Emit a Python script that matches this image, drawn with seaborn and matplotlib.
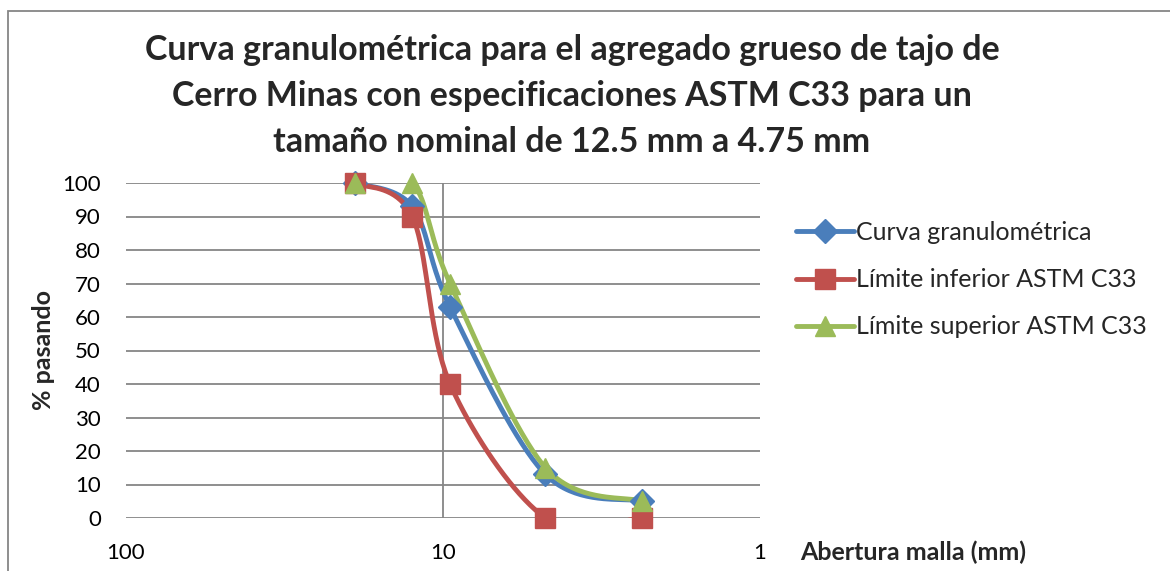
import numpy as np
import pandas as pd
import matplotlib
matplotlib.use("Agg")
import matplotlib.pyplot as plt
from matplotlib.lines import Line2D
from matplotlib.patches import Rectangle
import seaborn as sns

# ---- data ----
aberturas = [19.0, 12.5, 9.5, 4.75, 2.36]
curva = [100, 93, 63, 13, 5]
inferior = [100, 90, 40, 0, 0]
superior = [100, 100, 70, 15, 5]
series_names = ["Curva granulométrica", "Límite inferior ASTM C33", "Límite superior ASTM C33"]
y_ticks = [0, 10, 20, 30, 40, 50, 60, 70, 80, 90, 100]
x_ticks = [100, 10, 1]
x_tick_labels = ["100", "10", "1"]
title = ("Curva granulométrica para el agregado grueso de tajo de\n"
         "Cerro Minas con especificaciones ASTM C33 para un\n"
         "tamaño nominal de 12.5 mm a 4.75 mm")

sns.set_theme(style="white")
plt.rcParams["font.family"] = ["Lato", "DejaVu Sans"]

colors = ["#4A7EBB", "#C0504D", "#9BBB59"]
markers = ["D", "s", "^"]
msizes = [12, 14, 15]
LW = 3.5


def smooth(xs, ys, n=40):
    """Catmull-Rom spline in (log10 x, y) space (Excel-like smoothed line)."""
    lx = np.log10(np.asarray(xs, float))
    yy = np.asarray(ys, float)
    P = np.column_stack([lx, yy])
    P = np.vstack([P[0], P, P[-1]])
    out = []
    for i in range(1, len(P) - 2):
        p0, p1, p2, p3 = P[i - 1], P[i], P[i + 1], P[i + 2]
        c1 = p1 + (p2 - p0) / 6.0
        c2 = p2 - (p3 - p1) / 6.0
        t = np.linspace(0, 1, n)[:, None]
        seg = ((1 - t) ** 3) * p1 + 3 * ((1 - t) ** 2) * t * c1 + 3 * (1 - t) * t ** 2 * c2 + t ** 3 * p2
        out.append(seg if i == 1 else seg[1:])
    out = np.vstack(out)
    return 10 ** out[:, 0], out[:, 1]


fig = plt.figure(figsize=(11.7, 5.71), dpi=100)
ax = fig.add_axes([126 / 1170, 1 - 518 / 571, (760 - 126) / 1170, (518 - 183) / 571])
ax.set_xscale("log")

for name, vals, c, m, ms in zip(series_names, [curva, inferior, superior], colors, markers, msizes):
    sx, sy = smooth(aberturas, vals)
    df = pd.DataFrame({"x": sx, "y": sy})
    sns.lineplot(data=df, x="x", y="y", sort=False, ax=ax, color=c, lw=LW, zorder=3)
    dm = pd.DataFrame({"x": aberturas, "y": vals})
    ax.plot(dm["x"], dm["y"], ls="none", marker=m, ms=ms, color=c, mec=c, zorder=4, clip_on=False)

ax.set_xlim(100, 1)
ax.set_ylim(0, 100)
ax.set_xticks(x_ticks)
ax.set_xticklabels(x_tick_labels)
ax.xaxis.set_minor_locator(matplotlib.ticker.NullLocator())
ax.set_yticks(y_ticks)
ax.tick_params(axis="both", length=0, labelsize=16, colors="black")
ax.tick_params(axis="y", pad=18)
ax.tick_params(axis="x", pad=18)
ax.grid(False)
for v in y_ticks:
    ax.axhline(v, color="#868686", lw=1.3, zorder=1)
ax.axvline(10, color="#868686", lw=1.3, zorder=1)
for s in ax.spines.values():
    s.set_visible(False)
ax.set_xlabel("")
ax.set_ylabel("% pasando", fontsize=18, fontweight="bold", labelpad=5)

fig.text(572 / 1170, 1 - 96 / 571, title, ha="center", va="center",
         fontsize=24.5, fontweight="bold", linespacing=1.55)
fig.text(800 / 1170, 1 - 552 / 571, "Abertura malla (mm)", ha="left", va="center",
         fontsize=18, fontweight="bold")

handles = [Line2D([0], [0], color=c, lw=LW, marker=m, ms=ms, mec=c)
           for c, m, ms in zip(colors, markers, msizes)]
fig.legend(handles, series_names, loc="upper left", bbox_to_anchor=(796 / 1170, 1 - 221 / 571),
           frameon=False, fontsize=18, handlelength=2.3, handletextpad=0.1, labelspacing=0.97,
           borderaxespad=0, borderpad=0)

fig.patches.append(Rectangle((8 / 1170, -0.1), 1.2, 1 - 11 / 571 + 0.1, transform=fig.transFigure,
                             fill=False, edgecolor="#868686", lw=1.3))

fig.savefig("out.png", dpi=100)
